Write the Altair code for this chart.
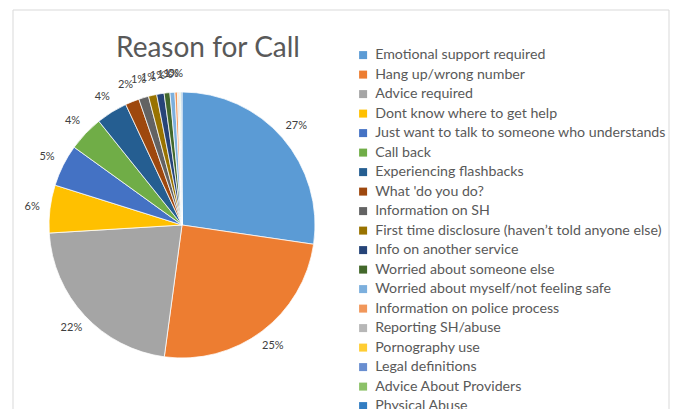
import altair as alt
import pandas as pd

categories = [
    "Emotional support required",
    "Hang up/wrong number",
    "Advice required",
    "Dont know where to get help",
    "Just want to talk to someone who understands",
    "Call back",
    "Experiencing flashbacks",
    "What 'do you do?",
    "Information on SH",
    "First time disclosure (haven\u2019t told anyone else)",
    "Info on another service",
    "Worried about someone else",
    "Worried about myself/not feeling safe",
    "Information on police process",
    "Reporting SH/abuse",
    "Pornography use",
    "Legal definitions",
    "Advice About Providers",
    "Physical Abuse",
]
values = [27.3, 24.8, 21.9, 5.8, 5.1, 4.3, 3.8, 1.7, 1.2, 1.0, 0.9, 0.7, 0.6, 0.3,
          0.15, 0.1, 0.1, 0.1, 0.1]
labels = ["27%", "25%", "22%", "6%", "5%", "4%", "4%", "2%", "1%", "1%", "1%", "1%",
          "1%", "0%", "", "", "", "", ""]
colors = ["#5B9BD5", "#ED7D31", "#A5A5A5", "#FFC000", "#4472C4", "#70AD47", "#255E91",
          "#9E480E", "#636363", "#997300", "#264478", "#43682B", "#7CAFDD", "#F1975A",
          "#B7B7B7", "#FFCD33", "#698ED0", "#8CC168", "#327DC2"]

df = pd.DataFrame({
    "reason": categories,
    "value": values,
    "label": labels,
    "order": list(range(len(categories))),
})

CX, CY = 174, 217

base = alt.Chart(df).encode(
    theta=alt.Theta("value:Q", stack=True),
    order=alt.Order("order:Q", sort="ascending"),
)

pie = base.mark_arc(radius=133, stroke="white", strokeWidth=0.75).encode(
    x=alt.value(CX),
    y=alt.value(CY),
    color=alt.Color(
        "reason:N",
        scale=alt.Scale(domain=categories, range=colors),
        legend=alt.Legend(
            title=None,
            orient="none",
            legendX=348,
            legendY=40,
            symbolType="square",
            symbolSize=64,
            symbolStrokeWidth=0,
            labelFont="Lato",
            labelFontSize=14.2,
            labelColor="#595959",
            rowPadding=4.5,
            labelLimit=400,
            labelOffset=5,
        ),
    ),
)

text = base.mark_text(radius=151, fontSize=11, font="Lato").encode(
    x=alt.value(CX),
    y=alt.value(CY),
    text="label:N",
    color=alt.value("#404040"),
)

one = pd.DataFrame({"t": ["Reason for Call"]})
title = alt.Chart(one).mark_text(
    font="Lato", fontSize=28, align="center", baseline="alphabetic"
).encode(text="t:N", x=alt.value(200), y=alt.value(49), color=alt.value("#595959"))

border_left = alt.Chart(one).mark_rule(color="#d9d9d9", strokeWidth=1).encode(
    x=alt.value(5), y=alt.value(2), y2=alt.value(401))
border_right = alt.Chart(one).mark_rule(color="#d9d9d9", strokeWidth=1).encode(
    x=alt.value(661), y=alt.value(2), y2=alt.value(401))
border_top = alt.Chart(one).mark_rule(color="#d9d9d9", strokeWidth=1).encode(
    x=alt.value(5), x2=alt.value(661), y=alt.value(2))

chart = alt.layer(border_left, border_right, border_top, pie, text, title).properties(
    width=663, height=401, padding=0,
    autosize=alt.AutoSizeParams(type="none"),
).configure_view(stroke=None)

chart.save("out.html", embed_options={"renderer": "svg", "actions": False})
